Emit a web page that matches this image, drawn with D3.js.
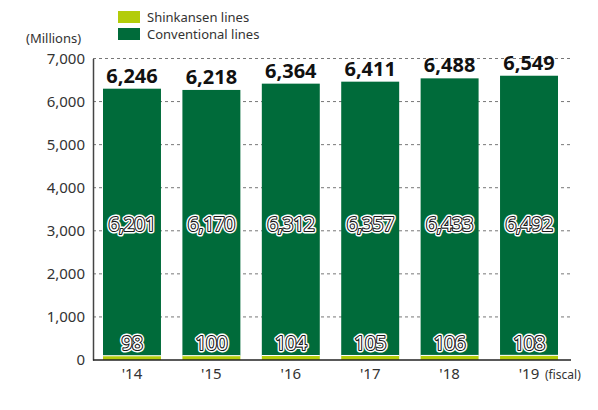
<!DOCTYPE html>
<html>
<head>
<meta charset="utf-8">
<script src="https://cdn.jsdelivr.net/npm/d3@7"></script>
<style>
  body { margin: 0; background: #fff; }
  svg text { font-family: "Noto Sans", sans-serif; }
</style>
</head>
<body>
<div id="chart"></div>
<script>
const years = ["'14", "'15", "'16", "'17", "'18", "'19"];
const shinkansen = [98, 100, 104, 105, 106, 108];
const conventional = [6201, 6170, 6312, 6357, 6433, 6492];
const totals = [6246, 6218, 6364, 6411, 6488, 6549];
const yTicks = [0, 1000, 2000, 3000, 4000, 5000, 6000, 7000];

const width = 598, height = 410;
const colors = { shin: '#b3cc0a', conv: '#006b3a' };

const svg = d3.select('#chart').append('svg')
    .attr('width', width)
    .attr('height', height);

const x = d3.scaleBand()
    .domain(years)
    .range([93, 568])
    .paddingInner(0.27)
    .paddingOuter(0.126);

const y = d3.scaleLinear()
    .domain([0, 7000])
    .range([360, 58.5]);

const fmt = d3.format(',');

// dashed gridlines
svg.append('g')
    .selectAll('line')
    .data(yTicks.filter(d => d > 0))
    .join('line')
    .attr('x1', 93).attr('x2', 572)
    .attr('y1', d => y(d)).attr('y2', d => y(d))
    .attr('stroke', '#777')
    .attr('stroke-width', 1)
    .attr('stroke-dasharray', '3,3');

// y axis
const yAxis = svg.append('g')
    .attr('transform', 'translate(93,0)')
    .call(d3.axisLeft(y).tickValues(yTicks).tickFormat(d => fmt(d)).tickSize(0).tickPadding(8))
    .call(g => g.select('.domain').attr('stroke', '#444').attr('stroke-width', 1.5));
yAxis.selectAll('text')
    .style('font-size', '15px')
    .attr('fill', '#333');

// bars
const stacked = years.map((yr, i) => ({ yr, shin: shinkansen[i], conv: conventional[i], total: totals[i] }));

const bar = svg.append('g').selectAll('g')
    .data(stacked)
    .join('g');

bar.append('rect')
    .attr('x', d => x(d.yr))
    .attr('width', x.bandwidth())
    .attr('y', d => y(d.shin + d.conv))
    .attr('height', d => y(d.shin) - y(d.shin + d.conv))
    .attr('fill', colors.conv);

bar.append('rect')
    .attr('x', d => x(d.yr))
    .attr('width', x.bandwidth())
    .attr('y', d => y(d.shin))
    .attr('height', d => y(0) - y(d.shin))
    .attr('fill', colors.shin);

bar.append('line')
    .attr('x1', d => x(d.yr)).attr('x2', d => x(d.yr) + x.bandwidth())
    .attr('y1', d => y(d.shin)).attr('y2', d => y(d.shin))
    .attr('stroke', '#fff')
    .attr('stroke-width', 1);

// outlined value labels (white core, dark ring, white halo)
function outlined(sel, yPos, text) {
    const layers = [
        { stroke: '#fff', sw: 5 },
        { stroke: '#1a1a1a', sw: 2.2 },
        { stroke: 'none', sw: 0 }
    ];
    layers.forEach(l => {
        sel.append('text')
            .attr('x', d => x(d.yr) + x.bandwidth() / 2)
            .attr('y', yPos)
            .attr('text-anchor', 'middle')
            .attr('dominant-baseline', 'central')
            .style('font-size', '19px')
            .style('letter-spacing', '-0.3px')
            .attr('fill', '#fff')
            .attr('stroke', l.stroke)
            .attr('stroke-width', l.sw)
            .attr('stroke-linejoin', 'round')
            .text(text);
    });
}
outlined(bar, y(3150), d => fmt(d.conv));
outlined(bar, y(400), d => fmt(d.shin));

// totals
bar.append('text')
    .attr('x', d => x(d.yr) + x.bandwidth() / 2)
    .attr('y', d => y(d.shin + d.conv) - 6)
    .attr('text-anchor', 'middle')
    .style('font-size', '20px')
    .style('font-weight', 'bold')
    .attr('fill', '#111')
    .text(d => fmt(d.total));

// x axis
svg.append('line')
    .attr('x1', 93).attr('x2', 571)
    .attr('y1', y(0)).attr('y2', y(0))
    .attr('stroke', '#222')
    .attr('stroke-width', 1.5);

svg.append('g').selectAll('text')
    .data(years)
    .join('text')
    .attr('x', d => x(d) + x.bandwidth() / 2)
    .attr('y', 379)
    .attr('text-anchor', 'middle')
    .style('font-size', '15px')
    .attr('fill', '#333')
    .text(d => d);

svg.append('text')
    .attr('x', x("'19") + x.bandwidth() / 2 + 16)
    .attr('y', 379)
    .style('font-size', '12px')
    .attr('fill', '#333')
    .text('(fiscal)');

// unit label
svg.append('text')
    .attr('x', 26).attr('y', 43)
    .style('font-size', '13px')
    .attr('fill', '#333')
    .text('(Millions)');

// legend
const legendItems = [
    { key: 'Shinkansen lines', color: colors.shin },
    { key: 'Conventional lines', color: colors.conv }
];
const legend = svg.append('g').attr('transform', 'translate(118, 11)');
legendItems.forEach((item, i) => {
    const row = legend.append('g').attr('transform', `translate(0, ${i * 17})`);
    row.append('rect').attr('width', 22).attr('height', 12).attr('fill', item.color);
    row.append('text').attr('x', 29).attr('y', 11)
        .style('font-size', '13px').attr('fill', '#333').text(item.key);
});
</script>
</body>
</html>
